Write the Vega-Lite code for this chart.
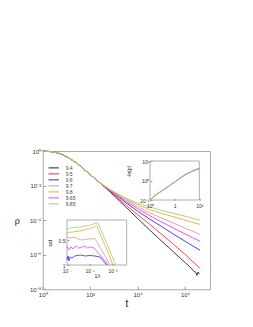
{
 "$schema": "https://vega.github.io/schema/vega-lite/v6.json",
 "width": 167.3, "height": 138.3,
 "autosize": "none",
 "padding": {"left": 42.7, "top": 151, "right": 43, "bottom": 37.7},
 "background": "white",
 "config": {
  "view": {"stroke": "#a8a8a8", "strokeWidth": 1},
  "axis": {"grid": false, "domain": false, "labelFlush": false, "labelFont": "Liberation Sans", "titleFont": "Liberation Sans", "labelColor": "#333", "titleColor": "#222", "tickColor": "#999", "titleFontWeight": "normal"},
  "legend": {"labelFont": "Liberation Sans"}
 },
 "datasets": {
  "main": [
   {"p":"9.4","log_t":0,"log_rho":0},{"p":"9.4","log_t":0.3,"log_rho":-0.03},{"p":"9.4","log_t":0.6,"log_rho":-0.1},{"p":"9.4","log_t":0.8,"log_rho":-0.19},{"p":"9.4","log_t":1.0,"log_rho":-0.33},{"p":"9.4","log_t":1.2,"log_rho":-0.49},{"p":"9.4","log_t":1.4,"log_rho":-0.67},{"p":"9.4","log_t":1.6,"log_rho":-0.89},{"p":"9.4","log_t":1.8,"log_rho":-1.13},{"p":"9.4","log_t":2.0,"log_rho":-1.36},{"p":"9.4","log_t":2.2,"log_rho":-1.6},{"p":"9.4","log_t":2.4,"log_rho":-1.83},
   {"p":"9.4","log_t":2.6,"log_rho":-2.07},{"p":"9.4","log_t":2.8,"log_rho":-2.32},{"p":"9.4","log_t":3.0,"log_rho":-2.58},{"p":"9.4","log_t":3.5,"log_rho":-3.24},{"p":"9.4","log_t":4.0,"log_rho":-3.9},{"p":"9.4","log_t":4.5,"log_rho":-4.56},{"p":"9.4","log_t":5.0,"log_rho":-5.2},{"p":"9.4","log_t":5.5,"log_rho":-5.82},{"p":"9.4","log_t":5.8,"log_rho":-6.2},{"p":"9.4","log_t":6.0,"log_rho":-6.45},{"p":"9.4","log_t":6.2,"log_rho":-6.7},{"p":"9.4","log_t":6.35,"log_rho":-6.92},{"p":"9.4","log_t":6.45,"log_rho":-7.02},{"p":"9.4","log_t":6.5,"log_rho":-7.2},{"p":"9.4","log_t":6.55,"log_rho":-7.0},{"p":"9.4","log_t":6.6,"log_rho":-7.12},
   {"p":"9.5","log_t":0,"log_rho":0},{"p":"9.5","log_t":0.3,"log_rho":-0.03},{"p":"9.5","log_t":0.6,"log_rho":-0.1},{"p":"9.5","log_t":0.8,"log_rho":-0.19},{"p":"9.5","log_t":1.0,"log_rho":-0.33},{"p":"9.5","log_t":1.2,"log_rho":-0.49},{"p":"9.5","log_t":1.4,"log_rho":-0.67},{"p":"9.5","log_t":1.6,"log_rho":-0.89},{"p":"9.5","log_t":1.8,"log_rho":-1.13},{"p":"9.5","log_t":2.0,"log_rho":-1.36},{"p":"9.5","log_t":2.2,"log_rho":-1.6},{"p":"9.5","log_t":2.4,"log_rho":-1.83},
   {"p":"9.5","log_t":2.6,"log_rho":-2.06},{"p":"9.5","log_t":2.8,"log_rho":-2.3},{"p":"9.5","log_t":3.0,"log_rho":-2.53},{"p":"9.5","log_t":3.5,"log_rho":-3.12},{"p":"9.5","log_t":4.0,"log_rho":-3.68},{"p":"9.5","log_t":4.5,"log_rho":-4.23},{"p":"9.5","log_t":5.0,"log_rho":-4.8},{"p":"9.5","log_t":5.5,"log_rho":-5.38},{"p":"9.5","log_t":6.0,"log_rho":-5.98},{"p":"9.5","log_t":6.3,"log_rho":-6.38},{"p":"9.5","log_t":6.45,"log_rho":-6.55},{"p":"9.5","log_t":6.63,"log_rho":-6.8},
   {"p":"9.6","log_t":0,"log_rho":0},{"p":"9.6","log_t":0.3,"log_rho":-0.03},{"p":"9.6","log_t":0.6,"log_rho":-0.1},{"p":"9.6","log_t":0.8,"log_rho":-0.19},{"p":"9.6","log_t":1.0,"log_rho":-0.33},{"p":"9.6","log_t":1.2,"log_rho":-0.49},{"p":"9.6","log_t":1.4,"log_rho":-0.67},{"p":"9.6","log_t":1.6,"log_rho":-0.89},{"p":"9.6","log_t":1.8,"log_rho":-1.13},{"p":"9.6","log_t":2.0,"log_rho":-1.36},{"p":"9.6","log_t":2.2,"log_rho":-1.6},{"p":"9.6","log_t":2.4,"log_rho":-1.83},
   {"p":"9.6","log_t":2.6,"log_rho":-2.05},{"p":"9.6","log_t":2.8,"log_rho":-2.27},{"p":"9.6","log_t":3.0,"log_rho":-2.46},{"p":"9.6","log_t":3.5,"log_rho":-2.98},{"p":"9.6","log_t":4.0,"log_rho":-3.48},{"p":"9.6","log_t":4.5,"log_rho":-3.93},{"p":"9.6","log_t":5.0,"log_rho":-4.36},{"p":"9.6","log_t":5.5,"log_rho":-4.8},{"p":"9.6","log_t":6.0,"log_rho":-5.22},{"p":"9.6","log_t":6.3,"log_rho":-5.47},{"p":"9.6","log_t":6.63,"log_rho":-5.74},
   {"p":"9.65","log_t":0,"log_rho":0},{"p":"9.65","log_t":0.3,"log_rho":-0.03},{"p":"9.65","log_t":0.6,"log_rho":-0.1},{"p":"9.65","log_t":0.8,"log_rho":-0.19},{"p":"9.65","log_t":1.0,"log_rho":-0.33},{"p":"9.65","log_t":1.2,"log_rho":-0.49},{"p":"9.65","log_t":1.4,"log_rho":-0.67},{"p":"9.65","log_t":1.6,"log_rho":-0.89},{"p":"9.65","log_t":1.8,"log_rho":-1.13},{"p":"9.65","log_t":2.0,"log_rho":-1.36},{"p":"9.65","log_t":2.2,"log_rho":-1.6},{"p":"9.65","log_t":2.4,"log_rho":-1.83},
   {"p":"9.65","log_t":2.6,"log_rho":-2.04},{"p":"9.65","log_t":2.8,"log_rho":-2.25},{"p":"9.65","log_t":3.0,"log_rho":-2.43},{"p":"9.65","log_t":3.5,"log_rho":-2.9},{"p":"9.65","log_t":4.0,"log_rho":-3.33},{"p":"9.65","log_t":4.5,"log_rho":-3.73},{"p":"9.65","log_t":5.0,"log_rho":-4.1},{"p":"9.65","log_t":5.5,"log_rho":-4.45},{"p":"9.65","log_t":6.0,"log_rho":-4.8},{"p":"9.65","log_t":6.3,"log_rho":-5.0},{"p":"9.65","log_t":6.63,"log_rho":-5.22},
   {"p":"9.7","log_t":0,"log_rho":0},{"p":"9.7","log_t":0.3,"log_rho":-0.03},{"p":"9.7","log_t":0.6,"log_rho":-0.1},{"p":"9.7","log_t":0.8,"log_rho":-0.19},{"p":"9.7","log_t":1.0,"log_rho":-0.33},{"p":"9.7","log_t":1.2,"log_rho":-0.49},{"p":"9.7","log_t":1.4,"log_rho":-0.67},{"p":"9.7","log_t":1.6,"log_rho":-0.89},{"p":"9.7","log_t":1.8,"log_rho":-1.13},{"p":"9.7","log_t":2.0,"log_rho":-1.36},{"p":"9.7","log_t":2.2,"log_rho":-1.6},{"p":"9.7","log_t":2.4,"log_rho":-1.83},
   {"p":"9.7","log_t":2.6,"log_rho":-2.03},{"p":"9.7","log_t":2.8,"log_rho":-2.23},{"p":"9.7","log_t":3.0,"log_rho":-2.4},{"p":"9.7","log_t":3.5,"log_rho":-2.83},{"p":"9.7","log_t":4.0,"log_rho":-3.22},{"p":"9.7","log_t":4.5,"log_rho":-3.57},{"p":"9.7","log_t":5.0,"log_rho":-3.87},{"p":"9.7","log_t":5.5,"log_rho":-4.16},{"p":"9.7","log_t":6.0,"log_rho":-4.46},{"p":"9.7","log_t":6.3,"log_rho":-4.63},{"p":"9.7","log_t":6.63,"log_rho":-4.83},
   {"p":"9.8","log_t":0,"log_rho":0},{"p":"9.8","log_t":0.3,"log_rho":-0.03},{"p":"9.8","log_t":0.6,"log_rho":-0.1},{"p":"9.8","log_t":0.8,"log_rho":-0.19},{"p":"9.8","log_t":1.0,"log_rho":-0.33},{"p":"9.8","log_t":1.2,"log_rho":-0.49},{"p":"9.8","log_t":1.4,"log_rho":-0.67},{"p":"9.8","log_t":1.6,"log_rho":-0.89},{"p":"9.8","log_t":1.8,"log_rho":-1.13},{"p":"9.8","log_t":2.0,"log_rho":-1.36},{"p":"9.8","log_t":2.2,"log_rho":-1.6},{"p":"9.8","log_t":2.4,"log_rho":-1.83},
   {"p":"9.8","log_t":2.6,"log_rho":-2.02},{"p":"9.8","log_t":2.8,"log_rho":-2.21},{"p":"9.8","log_t":3.0,"log_rho":-2.37},{"p":"9.8","log_t":3.5,"log_rho":-2.77},{"p":"9.8","log_t":4.0,"log_rho":-3.1},{"p":"9.8","log_t":4.5,"log_rho":-3.39},{"p":"9.8","log_t":5.0,"log_rho":-3.6},{"p":"9.8","log_t":5.5,"log_rho":-3.8},{"p":"9.8","log_t":6.0,"log_rho":-4.0},{"p":"9.8","log_t":6.3,"log_rho":-4.12},{"p":"9.8","log_t":6.63,"log_rho":-4.25},
   {"p":"9.85","log_t":0,"log_rho":0},{"p":"9.85","log_t":0.3,"log_rho":-0.03},{"p":"9.85","log_t":0.6,"log_rho":-0.1},{"p":"9.85","log_t":0.8,"log_rho":-0.19},{"p":"9.85","log_t":1.0,"log_rho":-0.33},{"p":"9.85","log_t":1.2,"log_rho":-0.49},{"p":"9.85","log_t":1.4,"log_rho":-0.67},{"p":"9.85","log_t":1.6,"log_rho":-0.89},{"p":"9.85","log_t":1.8,"log_rho":-1.13},{"p":"9.85","log_t":2.0,"log_rho":-1.36},{"p":"9.85","log_t":2.2,"log_rho":-1.6},{"p":"9.85","log_t":2.4,"log_rho":-1.83},
   {"p":"9.85","log_t":2.6,"log_rho":-2.01},{"p":"9.85","log_t":2.8,"log_rho":-2.19},{"p":"9.85","log_t":3.0,"log_rho":-2.35},{"p":"9.85","log_t":3.5,"log_rho":-2.72},{"p":"9.85","log_t":4.0,"log_rho":-3.02},{"p":"9.85","log_t":4.5,"log_rho":-3.24},{"p":"9.85","log_t":5.0,"log_rho":-3.43},{"p":"9.85","log_t":5.5,"log_rho":-3.6},{"p":"9.85","log_t":6.0,"log_rho":-3.77},{"p":"9.85","log_t":6.3,"log_rho":-3.88},{"p":"9.85","log_t":6.63,"log_rho":-4.0}
  ],
  "inset1": [
   {"p":"9.5","t":1,"neg_ln_rho":0.1},{"p":"9.5","t":1.5,"neg_ln_rho":0.16},{"p":"9.5","t":2,"neg_ln_rho":0.21},{"p":"9.5","t":3,"neg_ln_rho":0.29},{"p":"9.5","t":5,"neg_ln_rho":0.45},{"p":"9.5","t":7,"neg_ln_rho":0.62},{"p":"9.5","t":10,"neg_ln_rho":0.83},{"p":"9.5","t":15,"neg_ln_rho":1.2},{"p":"9.5","t":20,"neg_ln_rho":1.55},{"p":"9.5","t":30,"neg_ln_rho":2.15},{"p":"9.5","t":50,"neg_ln_rho":2.95},{"p":"9.5","t":70,"neg_ln_rho":3.55},{"p":"9.5","t":100,"neg_ln_rho":4.2},
   {"p":"9.65","t":1,"neg_ln_rho":0.1},{"p":"9.65","t":1.5,"neg_ln_rho":0.16},{"p":"9.65","t":2,"neg_ln_rho":0.21},{"p":"9.65","t":3,"neg_ln_rho":0.29},{"p":"9.65","t":5,"neg_ln_rho":0.45},{"p":"9.65","t":7,"neg_ln_rho":0.62},{"p":"9.65","t":10,"neg_ln_rho":0.83},{"p":"9.65","t":15,"neg_ln_rho":1.2},{"p":"9.65","t":20,"neg_ln_rho":1.55},{"p":"9.65","t":30,"neg_ln_rho":2.14},{"p":"9.65","t":50,"neg_ln_rho":2.93},{"p":"9.65","t":70,"neg_ln_rho":3.52},{"p":"9.65","t":100,"neg_ln_rho":4.15},
   {"p":"9.85","t":1,"neg_ln_rho":0.1},{"p":"9.85","t":1.5,"neg_ln_rho":0.16},{"p":"9.85","t":2,"neg_ln_rho":0.21},{"p":"9.85","t":3,"neg_ln_rho":0.29},{"p":"9.85","t":5,"neg_ln_rho":0.45},{"p":"9.85","t":7,"neg_ln_rho":0.62},{"p":"9.85","t":10,"neg_ln_rho":0.82},{"p":"9.85","t":15,"neg_ln_rho":1.19},{"p":"9.85","t":20,"neg_ln_rho":1.53},{"p":"9.85","t":30,"neg_ln_rho":2.12},{"p":"9.85","t":50,"neg_ln_rho":2.9},{"p":"9.85","t":70,"neg_ln_rho":3.48},{"p":"9.85","t":100,"neg_ln_rho":4.1}
  ],
  "inset2": [
   {"p":"9.6","log_inv_t":-7,"alpha":0.9},{"p":"9.6","log_inv_t":-6.91,"alpha":0.82},{"p":"9.6","log_inv_t":-6.83,"alpha":0.92},{"p":"9.6","log_inv_t":-6.74,"alpha":0.84},{"p":"9.6","log_inv_t":-6.57,"alpha":0.86},{"p":"9.6","log_inv_t":-6.31,"alpha":0.82},{"p":"9.6","log_inv_t":-5.84,"alpha":0.8},{"p":"9.6","log_inv_t":-5.4,"alpha":0.82},{"p":"9.6","log_inv_t":-4.97,"alpha":0.81},{"p":"9.6","log_inv_t":-4.54,"alpha":0.82},{"p":"9.6","log_inv_t":-4.1,"alpha":0.84},{"p":"9.6","log_inv_t":-3.8,"alpha":0.92},{"p":"9.6","log_inv_t":-3.5,"alpha":1.0},
   {"p":"9.65","log_inv_t":-7,"alpha":0.62},{"p":"9.65","log_inv_t":-6.83,"alpha":0.7},{"p":"9.65","log_inv_t":-6.65,"alpha":0.64},{"p":"9.65","log_inv_t":-6.48,"alpha":0.68},{"p":"9.65","log_inv_t":-6.2,"alpha":0.62},{"p":"9.65","log_inv_t":-5.97,"alpha":0.66},{"p":"9.65","log_inv_t":-5.7,"alpha":0.65},{"p":"9.65","log_inv_t":-5.45,"alpha":0.62},{"p":"9.65","log_inv_t":-5.2,"alpha":0.66},{"p":"9.65","log_inv_t":-4.93,"alpha":0.64},{"p":"9.65","log_inv_t":-4.63,"alpha":0.66},{"p":"9.65","log_inv_t":-4.2,"alpha":0.77},{"p":"9.65","log_inv_t":-3.8,"alpha":0.88},{"p":"9.65","log_inv_t":-3.37,"alpha":1.0},
   {"p":"9.7","log_inv_t":-7,"alpha":0.46},{"p":"9.7","log_inv_t":-6.6,"alpha":0.45},{"p":"9.7","log_inv_t":-6.28,"alpha":0.45},{"p":"9.7","log_inv_t":-5.9,"alpha":0.49},{"p":"9.7","log_inv_t":-5.67,"alpha":0.5},{"p":"9.7","log_inv_t":-5.15,"alpha":0.48},{"p":"9.7","log_inv_t":-4.8,"alpha":0.475},{"p":"9.7","log_inv_t":-4.54,"alpha":0.47},{"p":"9.7","log_inv_t":-4.1,"alpha":0.64},{"p":"9.7","log_inv_t":-3.7,"alpha":0.8},{"p":"9.7","log_inv_t":-3.23,"alpha":1.0},
   {"p":"9.8","log_inv_t":-7,"alpha":0.35},{"p":"9.8","log_inv_t":-6.5,"alpha":0.34},{"p":"9.8","log_inv_t":-5.84,"alpha":0.32},{"p":"9.8","log_inv_t":-5.15,"alpha":0.28},{"p":"9.8","log_inv_t":-4.7,"alpha":0.25},{"p":"9.8","log_inv_t":-4.39,"alpha":0.22},{"p":"9.8","log_inv_t":-3.9,"alpha":0.48},{"p":"9.8","log_inv_t":-3.4,"alpha":0.74},{"p":"9.8","log_inv_t":-2.97,"alpha":1.0},
   {"p":"9.85","log_inv_t":-7,"alpha":0.28},{"p":"9.85","log_inv_t":-6.6,"alpha":0.25},{"p":"9.85","log_inv_t":-6.3,"alpha":0.245},{"p":"9.85","log_inv_t":-5.9,"alpha":0.24},{"p":"9.85","log_inv_t":-5.5,"alpha":0.225},{"p":"9.85","log_inv_t":-5.1,"alpha":0.21},{"p":"9.85","log_inv_t":-4.7,"alpha":0.18},{"p":"9.85","log_inv_t":-4.4,"alpha":0.16},{"p":"9.85","log_inv_t":-4.28,"alpha":0.15},{"p":"9.85","log_inv_t":-3.9,"alpha":0.36},{"p":"9.85","log_inv_t":-3.5,"alpha":0.57},{"p":"9.85","log_inv_t":-3.1,"alpha":0.79},{"p":"9.85","log_inv_t":-2.71,"alpha":1.0}
  ]
 },
 "layer": [
  {
   "data": {"name": "main"},
   "mark": {"type": "line", "strokeWidth": 0.9},
   "encoding": {
    "x": {"field": "log_t", "type": "quantitative", "scale": {"domain": [0, 7.05], "nice": false, "zero": false},
     "axis": {"orient": "bottom", "values": [0, 2, 4, 6], "labelExpr": "datum.value == 0 ? '10⁰' : datum.value == 2 ? '10²' : datum.value == 4 ? '10⁴' : '10⁶'", "title": "t", "titleFontSize": 10, "labelFontSize": 6, "tickSize": -3, "labelPadding": 5, "titlePadding": 1}},
    "y": {"field": "log_rho", "type": "quantitative", "scale": {"domain": [-8, 0], "nice": false, "zero": false},
     "axis": {"orient": "left", "values": [0, -2, -4, -6, -8], "labelExpr": "datum.value == 0 ? '10⁰' : datum.value == -2 ? '10⁻²' : datum.value == -4 ? '10⁻⁴' : datum.value == -6 ? '10⁻⁶' : '10⁻⁸'", "title": "ρ", "titleAngle": 0, "titleX": -26, "titleY": 69, "titleAlign": "center", "titleBaseline": "middle", "titleFontSize": 9, "labelFontSize": 6, "tickSize": -3, "labelPadding": 5}},
    "color": {"field": "p", "type": "nominal",
     "scale": {"domain": ["9.4", "9.5", "9.6", "9.7", "9.8", "9.65", "9.85"], "range": ["#222222", "#ff2a2a", "#2a2aff", "#c9a09a", "#ffa526", "#ff33ff", "#90d870"]},
     "legend": {"orient": "none", "legendX": 5, "legendY": 14, "title": null, "symbolType": "stroke", "symbolSize": 110, "symbolStrokeWidth": 1, "labelFontSize": 5, "labelColor": "#444", "clipHeight": 5.8, "rowPadding": 0, "padding": 0, "labelOffset": 6}}
   }
  },
  {
   "layer": [
    {
     "data": {"values": [{"frame": "inset"}]},
     "mark": {"type": "rect", "fill": "white", "stroke": "#999999", "strokeWidth": 0.8},
     "encoding": {
      "x": {"datum": 1, "type": "quantitative"},
      "x2": {"datum": 100},
      "y": {"datum": 0.1, "type": "quantitative"},
      "y2": {"datum": 10}
     }
    },
    {
     "data": {"name": "inset1"},
     "mark": {"type": "line", "strokeWidth": 0.8},
     "encoding": {
      "x": {"field": "t", "type": "quantitative", "scale": {"type": "log", "domain": [1, 100], "range": [107.3, 156.6], "nice": false},
       "axis": {"orient": "bottom", "offset": -89, "zindex": 2, "values": [1, 10, 100], "labelExpr": "datum.value == 1 ? '10⁰' : datum.value == 10 ? '1' : '10²'", "title": null, "labelFontSize": 5, "tickSize": -2, "labelPadding": 5}},
      "y": {"field": "neg_ln_rho", "type": "quantitative", "scale": {"type": "log", "domain": [0.1, 10], "range": [49, 10], "nice": false},
       "axis": {"orient": "left", "offset": -107.3, "zindex": 2, "values": [0.1, 1, 10], "labelExpr": "datum.value == 0.1 ? '10⁻¹' : datum.value == 1 ? '10⁰' : '10¹'", "title": "-ln(ρ)", "titleY": 20, "titleFontSize": 5, "titlePadding": 8, "labelFontSize": 5, "tickSize": -2, "labelPadding": 3}},
      "color": {"field": "p", "type": "nominal"}
     }
    }
   ],
   "resolve": {"scale": {"x": "shared", "y": "shared"}}
  },
  {
   "layer": [
    {
     "data": {"values": [{"frame": "inset"}]},
     "mark": {"type": "rect", "fill": "white", "stroke": "#999999", "strokeWidth": 0.8},
     "encoding": {
      "x": {"datum": -7, "type": "quantitative"},
      "x2": {"datum": -1.75},
      "y": {"datum": 0.1, "type": "quantitative"},
      "y2": {"datum": 1}
     }
    },
    {
     "data": {"name": "inset2"},
     "mark": {"type": "line", "strokeWidth": 0.8},
     "encoding": {
      "x": {"field": "log_inv_t", "type": "quantitative", "scale": {"domain": [-7, -1.75], "range": [24.3, 84], "nice": false, "zero": false},
       "axis": {"orient": "bottom", "offset": -24, "zindex": 2, "values": [-7, -5, -3], "labelExpr": "datum.value == -7 ? '10⁻⁷' : datum.value == -5 ? '10⁻⁵' : '10⁻³'", "title": "1/t", "titleFontSize": 5, "titlePadding": 0, "labelFontSize": 5, "tickSize": -2, "labelPadding": 5}},
      "y": {"field": "alpha", "type": "quantitative", "scale": {"domain": [0.1, 1], "range": [69, 114], "nice": false, "zero": false},
       "axis": {"orient": "left", "offset": -24.3, "zindex": 2, "values": [0.5, 1], "labelExpr": "datum.value == 1 ? '1' : '0.5'", "title": "αd", "titleFontSize": 6, "titlePadding": 6, "labelFontSize": 5, "tickSize": -2, "labelPadding": 4}},
      "color": {"field": "p", "type": "nominal"}
     }
    }
   ],
   "resolve": {"scale": {"x": "shared", "y": "shared"}}
  }
 ],
 "resolve": {"scale": {"x": "independent", "y": "independent"}}
}
